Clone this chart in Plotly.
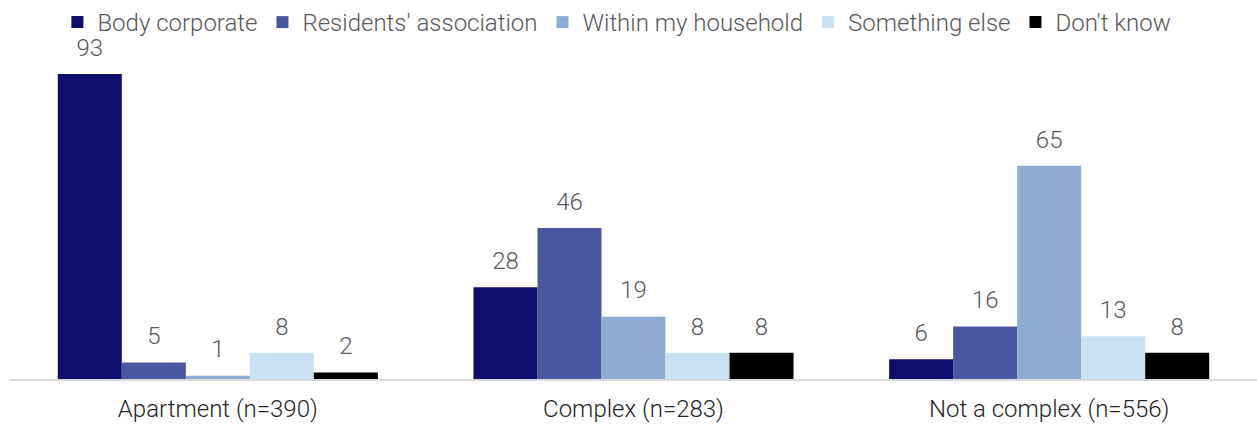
import plotly.graph_objects as go

categories = ["Apartment (n=390)", "Complex (n=283)", "Not a complex (n=556)"]
series_names = ["Body corporate", "Residents' association", "Within my household",
                "Something else", "Don't know"]
body_corporate = [93, 28, 6]
residents_association = [5, 46, 16]
within_household = [1, 19, 65]
something_else = [8, 8, 13]
dont_know = [2, 8, 8]

series_values = [body_corporate, residents_association, within_household,
                 something_else, dont_know]
colors = ["#0e0e6e", "#4a56a0", "#8eabd0", "#c9e1f0", "#000000"]

base_font = "Roboto, sans-serif"

fig = go.Figure()
for name, vals, col in zip(series_names, series_values, colors):
    fig.add_trace(go.Bar(
        name=name,
        x=categories,
        y=vals,
        offsetgroup=name,
        marker=dict(color=col, line=dict(width=0)),
    ))

# value labels, grouped the same way as the bars; an invisible marker
# keeps the text clear of the bar top
for name, vals in zip(series_names, series_values):
    fig.add_trace(go.Scatter(
        x=categories,
        y=vals,
        offsetgroup=name,
        mode="markers+text",
        marker=dict(size=18, color="rgba(0,0,0,0)"),
        text=[str(v) for v in vals],
        textposition="top center",
        textfont=dict(size=24, color="#595959", family=base_font, weight=300),
        showlegend=False,
        hoverinfo="skip",
        cliponaxis=False,
    ))

fig.update_layout(
    width=1257,
    height=425,
    margin=dict(l=10, r=0, t=51, b=46),
    barmode="group",
    bargap=0.23,
    bargroupgap=0,
    scattermode="group",
    scattergap=0.23,
    plot_bgcolor="white",
    paper_bgcolor="white",
    font=dict(family=base_font, size=24, color="#595959"),
    legend=dict(
        orientation="h",
        x=0.038, xanchor="left",
        y=1.0, yanchor="top",
        yref="container",
        bgcolor="rgba(0,0,0,0)",
        font=dict(size=24, color="#595959", family=base_font, weight=300),
        itemwidth=30,
        traceorder="normal",
    ),
    showlegend=True,
)
fig.update_xaxes(
    showline=True, linecolor="#d9d9d9", linewidth=2,
    ticks="", ticklabelstandoff=7, automargin=False,
    tickfont=dict(size=24, color="#262626", family=base_font, weight=300),
)
fig.update_yaxes(visible=False, range=[0, 100], showgrid=False)

fig.write_html("out.html")
